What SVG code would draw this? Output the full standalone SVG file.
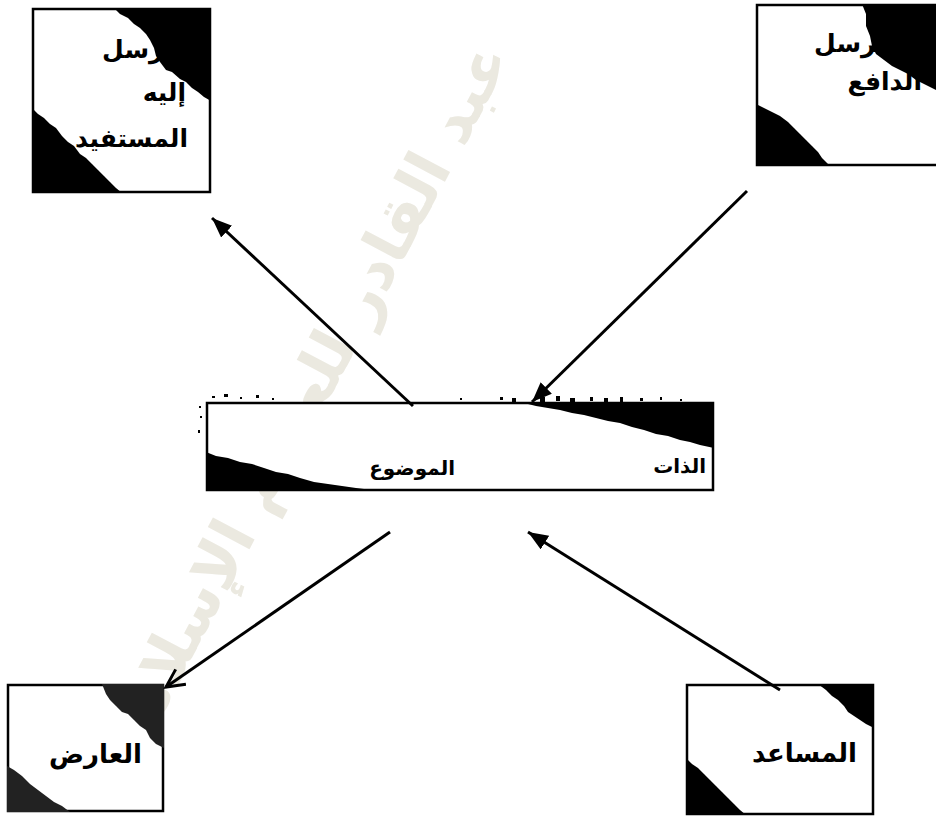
<svg xmlns="http://www.w3.org/2000/svg" width="936" height="816" viewBox="0 0 936 816">
<style>
.box{fill:#fff;stroke:#000;stroke-width:2.5}
.ink{fill:#000}
.lbl{font-family:"DejaVu Sans",sans-serif;font-weight:bold;fill:#000;text-anchor:end}
.wm{font-family:"DejaVu Sans",sans-serif;font-weight:bold;fill:#ebe9e0;text-anchor:middle}
.line{stroke:#000;stroke-width:3;fill:none}
</style>
<defs>
<marker id="tri" markerUnits="userSpaceOnUse" markerWidth="22" markerHeight="18" refX="20" refY="8" orient="auto">
<path d="M0,0 L20,8 L0,16 z" fill="#000"/>
</marker>
<marker id="vee" markerUnits="userSpaceOnUse" markerWidth="22" markerHeight="22" refX="19" refY="10" orient="auto">
<path d="M1,1 L19,10 L1,19" fill="none" stroke="#000" stroke-width="3"/>
</marker>
</defs>
<rect width="936" height="816" fill="#fff"/>
<text class="wm" font-size="62" transform="translate(300,408) rotate(-62)" dy=".35em">عبد القادر للعلوم الإسلامية</text>

<g id="sender-beneficiary">
<rect class="box" x="33" y="9" width="177" height="183"/>
<text class="lbl" x="180" y="58" font-size="25">مرسل</text>
<text class="lbl" x="186" y="101" font-size="25">إليه</text>
<text class="lbl" x="188" y="147" font-size="25">المستفيد</text>
<path class="ink" d="M115,9 L211,9 L211,101 L204,97 L198,92 L192,88 L186,82 L180,79 L172,72 L166,70 L160,62 L156,56 L154,48 L150,40 L146,34 L140,28 L134,24 L128,18 L120,14 z"/>
<path class="ink" d="M32,108 L38,114 L44,118 L50,124 L56,128 L62,136 L68,142 L74,146 L80,154 L86,158 L92,164 L98,170 L104,176 L110,182 L116,188 L122,193 L32,193 z"/>
</g>

<g id="sender-motive">
<rect class="box" x="757" y="5" width="185" height="160"/>
<text class="lbl" x="892" y="52" font-size="25">مرسل</text>
<text class="lbl" x="922" y="90" font-size="25">الدافع</text>
<path class="ink" d="M862,4 L940,4 L940,92 L932,88 L924,84 L916,80 L908,74 L900,70 L892,66 L884,60 L876,54 L872,46 L870,36 L866,26 L866,14 z"/>
<path class="ink" d="M756,104 L764,108 L772,112 L780,116 L788,122 L794,128 L800,134 L806,140 L812,146 L818,152 L822,158 L830,166 L756,166 z"/>
</g>

<g id="subject-object">
<rect class="box" x="207" y="403" width="506" height="87"/>
<text class="lbl" x="455" y="475" font-size="20">الموضوع</text>
<text class="lbl" x="706" y="473" font-size="20">الذات</text>
<path class="ink" d="M520,402 L714,402 L714,448 L700,445 L690,442 L680,440 L668,436 L656,434 L644,430 L632,427 L620,423 L608,421 L596,418 L584,415 L572,413 L560,410 L548,408 L536,406 z"/>
<path class="ink" d="M206,452 L216,456 L228,458 L240,462 L252,464 L264,468 L276,472 L288,474 L300,478 L314,482 L328,484 L342,486 L356,488 L372,490 L384,491 L206,491 z"/>
<path class="ink" d="M212,396 h3 v2 h-3z M224,394 h4 v3 h-4z M240,397 h2 v2 h-2z M256,395 h3 v3 h-3z M272,398 h2 v2 h-2z M460,398 h2 v2 h-2z M500,397 h3 v3 h-3z M512,398 h4 v4 h-4z M540,397 h5 v5 h-5z M556,396 h4 v5 h-4z M570,398 h5 v4 h-5z M590,397 h3 v4 h-3z M604,398 h4 v4 h-4z M620,397 h3 v5 h-3z M640,398 h3 v3 h-3z M660,397 h2 v3 h-2z M680,399 h2 v2 h-2z M199,406 h2 v2 h-2z M200,416 h2 v2 h-2z M198,430 h2 v3 h-2z"/>
</g>

<g id="opponent">
<rect class="box" x="8" y="685" width="155" height="126"/>
<text class="lbl" x="142" y="763" font-size="26">العارض</text>
<path fill="#222" d="M102,684 L164,684 L164,748 L156,744 L150,738 L146,730 L140,726 L134,720 L128,714 L122,712 L116,706 L110,700 L106,694 z"/>
<path fill="#222" d="M7,766 L14,770 L22,776 L30,784 L38,790 L46,796 L54,802 L62,806 L70,812 L7,812 z"/>
</g>

<g id="helper">
<rect class="box" x="687" y="685" width="186" height="129"/>
<text class="lbl" x="857" y="762" font-size="26">المساعد</text>
<path class="ink" d="M818,684 L874,684 L874,728 L866,724 L860,720 L854,716 L848,712 L844,706 L838,700 L832,696 L826,690 z"/>
<path class="ink" d="M686,758 L692,764 L698,768 L704,774 L710,780 L716,786 L722,792 L728,798 L734,804 L740,810 L746,815 L686,815 z"/>
</g>

<g id="connectors">
<line class="line" x1="413" y1="406" x2="212" y2="218" marker-end="url(#tri)"/>
<line class="line" x1="747" y1="191" x2="532" y2="402" marker-end="url(#tri)"/>
<line class="line" x1="390" y1="532" x2="166" y2="687" marker-end="url(#vee)"/>
<line class="line" x1="780" y1="690" x2="528" y2="532" marker-end="url(#tri)"/>
</g>
</svg>
